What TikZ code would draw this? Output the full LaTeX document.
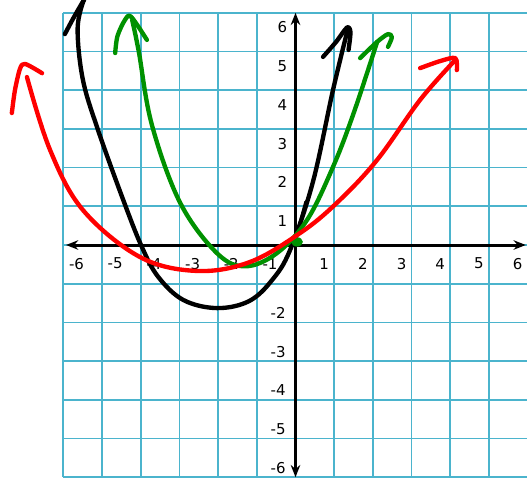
\documentclass[tikz,border=0pt]{standalone}
\usepackage{fontspec}
\setmainfont{DejaVu Sans}
\usetikzlibrary{arrows.meta}

\definecolor{gridblue}{RGB}{75,180,205}
\definecolor{penred}{RGB}{255,0,0}
\definecolor{pengreen}{RGB}{0,145,0}

\begin{document}
\begin{tikzpicture}[
   gridline/.style={color=gridblue,line width=1.3pt},
   axisline/.style={line width=2.2pt},
   pen/.style={line width=3.2pt,line cap=round,line join=round},
   lbl/.style={font=\fontsize{11}{13}\selectfont,inner sep=0pt}]

   \useasboundingbox (-7.636,-6.098) rectangle (5.982,6.331);

   % grid and axes
   \draw[gridline] (-6,-6) grid (5.982,6);
   \draw[axisline,{Stealth[length=9pt,width=7pt,inset=3pt]}-{Stealth[length=9pt,width=7pt,inset=3pt]}] (-5.93,0) -- (5.95,0);
   \draw[axisline,{Stealth[length=9pt,width=7pt,inset=3pt]}-{Stealth[length=9pt,width=7pt,inset=3pt]}] (0,-6) -- (0,6);

   \foreach \k [count=\i] in {1,...,6}
      \node[lbl] (xpos\i) at (\k-0.26,-0.48) {\k};
   \foreach \k [count=\i] in {-6,...,-1}
      \node[lbl] (xneg\i) at (\k+0.34,-0.48) {\k};
   \foreach \k [count=\i] in {1,...,6}
      \node[lbl] (ypos\i) at (-0.34,\k-0.38) {\k};
   \foreach \k [count=\i] in {-6,...,-2}
      \node[lbl] (yneg\i) at (-0.45,\k+0.24) {\k};

   % black
   \draw[pen,black] plot[smooth,tension=0.6] coordinates {(-5.47,6.33) (-5.63,5.6) (-5.5,4.3) (-5.13,3.05) (-4.45,1.16) (-3.97,-0.05) (-3.55,-0.82) (-2.9,-1.42) (-2.03,-1.63) (-1.2,-1.45) (-0.6,-0.9) (-0.14,-0.13) (0.45,1.63) (0.97,4.01) (1.36,5.61)};
   \draw[pen,black] (-5.96,5.45) .. controls (-5.75,5.85) .. (-5.44,6.38);
   \draw[pen,black] plot[smooth,tension=0.5] coordinates {(0.71,4.86) (1.05,5.25) (1.33,5.62) (1.42,5.5) (1.37,5.04)};
   \draw[pen,black,line width=2.4pt] (0.0,0.15) -- (0.27,1.12);

   % green
   \draw[pen,pengreen] plot[smooth,tension=0.6] coordinates {(-4.22,5.81) (-4.05,5.0) (-3.71,3.10) (-2.98,1.09) (-2.03,-0.21) (-1.3,-0.55) (-0.48,-0.21) (0.30,0.65) (0.97,2.02) (1.5,3.4) (2.11,5.25)};
   \draw[pen,pengreen] plot[smooth,tension=0.5] coordinates {(-4.66,4.96) (-4.6,5.4) (-4.41,5.81) (-4.25,5.9) (-3.84,5.30)};
   \draw[pen,pengreen] plot[smooth,tension=0.5] coordinates {(1.67,4.83) (2.11,5.25) (2.39,5.45) (2.49,5.37) (2.39,5.12)};
   \fill[pengreen] (0.04,0.08) ellipse (0.15 and 0.12);

   % red
   \draw[pen,penred] plot[smooth,tension=0.6] coordinates {(4.13,4.78) (3.22,3.75) (2.11,2.20) (1.07,1.09) (0.12,0.31) (-1.18,-0.44) (-2.55,-0.67) (-4.02,-0.31) (-5.49,0.90) (-6.34,2.45) (-6.94,4.34)};
   \draw[pen,penred] plot[smooth,tension=0.5] coordinates {(-7.33,3.41) (-7.25,4.0) (-7.12,4.55) (-6.99,4.68) (-6.55,4.44)};
   \draw[pen,penred] plot[smooth,tension=0.5] coordinates {(3.22,4.57) (3.73,4.75) (4.13,4.83) (4.17,4.52)};

\end{tikzpicture}
\end{document}
